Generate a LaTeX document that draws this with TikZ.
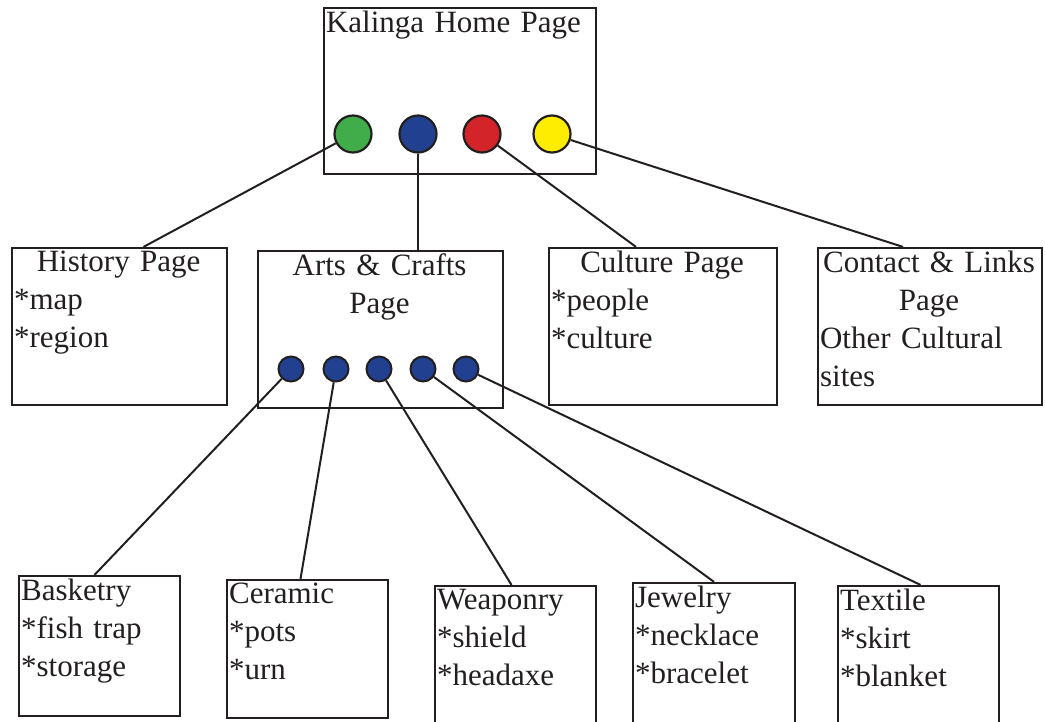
\documentclass[tikz,border=0pt]{standalone}
\usepackage{fontspec}
\setmainfont{Liberation Serif}
\definecolor{kal_ink}{RGB}{35, 31, 32}
\definecolor{kal_green}{RGB}{64, 173, 74}
\definecolor{kal_blue}{RGB}{34, 64, 144}
\definecolor{kal_red}{RGB}{211, 36, 42}
\definecolor{kal_yellow}{RGB}{255, 237, 0}
\usepackage{tikz}

\begin{document}
\begin{tikzpicture}[x=1pt, y=-1pt,
    every node/.style={text=kal_ink},
    pagebox/.style={draw=kal_ink, line width=2.2pt, rectangle, inner sep=0pt},
    pagetext/.style={anchor=north west, inner xsep=3pt, inner ysep=4pt, align=left,
      font=\fontsize{31}{38}\selectfont},
    homedot/.style={circle, draw=kal_ink, line width=2.2pt, minimum size=37pt, inner sep=0pt},
    artsdot/.style={circle, draw=kal_ink, line width=2pt, fill=kal_blue, minimum size=25pt, inner sep=0pt},
    link/.style={draw=kal_ink, line width=2pt}]
        \useasboundingbox (0,0) rectangle (1045,721);
        \clip (0,0) rectangle (1045,721);

        % Page d'accueil
        \node[pagebox, minimum width=272pt, minimum height=166pt] (home) at (460,91) {};
        \node[pagetext, text width=266pt] (hometxt) at (home.north west) {Kalinga Home Page};
        \node[homedot, fill=kal_green] (green) at (353,134) {};
        \node[homedot, fill=kal_blue] (blue) at (418,134) {};
        \node[homedot, fill=kal_red] (red) at (482,134) {};
        \node[homedot, fill=kal_yellow] (yellow) at (552,134) {};

        % Pages du second niveau
        \node[pagebox, minimum width=215pt, minimum height=157pt] (hist) at (119.5,326.5) {};
        \node[pagetext, text width=209pt] (histtxt) at (hist.north west)
          {{\centering History Page\par}*map\\{}*region};
        \node[pagebox, minimum width=245pt, minimum height=157pt] (arts) at (380.5,329.5) {};
        \node[pagetext, text width=239pt, align=center] (artstxt) at (arts.north west)
          {Arts \& Crafts\\Page};
        \node[pagebox, minimum width=228pt, minimum height=157pt] (cult) at (663,326.5) {};
        \node[pagetext, text width=222pt] (culttxt) at (cult.north west)
          {{\centering Culture Page\par}*people\\{}*culture};
        \node[pagebox, minimum width=224pt, minimum height=157pt] (cont) at (930,326.5) {};
        \node[pagetext, text width=218pt] (conttxt) at (cont.north west)
          {{\centering Contact \& Links\\Page\par}Other Cultural\\sites};

        % Liens depuis l'accueil
        \draw[link] (green) -- ([xshift=24pt]hist.north);
        \draw[link] (blue) -- (blue |- arts.north);
        \draw[link] (red) -- ([xshift=-27pt]cult.north);
        \draw[link] (yellow) -- ([xshift=-27pt]cont.north);

        % Pages artisanat
        \node[pagebox, minimum width=161pt, minimum height=140pt] (bask) at (99.5,646) {};
        \node[pagetext, text width=155pt] (basktxt) at (bask.north west)
          {Basketry\\{}*fish trap\\{}*storage};
        \node[pagebox, minimum width=161pt, minimum height=138pt] (cera) at (307.5,649) {};
        \node[pagetext, text width=155pt] (ceratxt) at (cera.north west)
          {Ceramic\\{}*pots\\{}*urn};
        \node[pagebox, minimum width=161pt, minimum height=154pt] (weap) at (515.5,663) {};
        \node[pagetext, text width=155pt] (weaptxt) at (weap.north west)
          {Weaponry\\{}*shield\\{}*headaxe};
        \node[pagebox, minimum width=162pt, minimum height=157pt] (jewl) at (714,661.5) {};
        \node[pagetext, text width=156pt] (jewltxt) at (jewl.north west)
          {Jewelry\\{}*necklace\\{}*bracelet};
        \node[pagebox, minimum width=161pt, minimum height=154pt] (texl) at (918.5,663) {};
        \node[pagetext, text width=155pt] (texltxt) at (texl.north west)
          {Textile\\{}*skirt\\{}*blanket};

        % Points et liens des arts
        \foreach \i/\x in {1/291, 2/336, 3/379, 4/423, 5/466} {
          \node[artsdot] (dot\i) at (\x,369) {};
        }
        \foreach \i/\b/\s in {1/bask/-5pt, 2/cera/-7pt, 3/weap/-4pt, 4/jewl/0pt, 5/texl/2pt} {
          \draw[link] (dot\i) -- ([xshift=\s]\b.north);
        }
      \end{tikzpicture}
\end{document}
